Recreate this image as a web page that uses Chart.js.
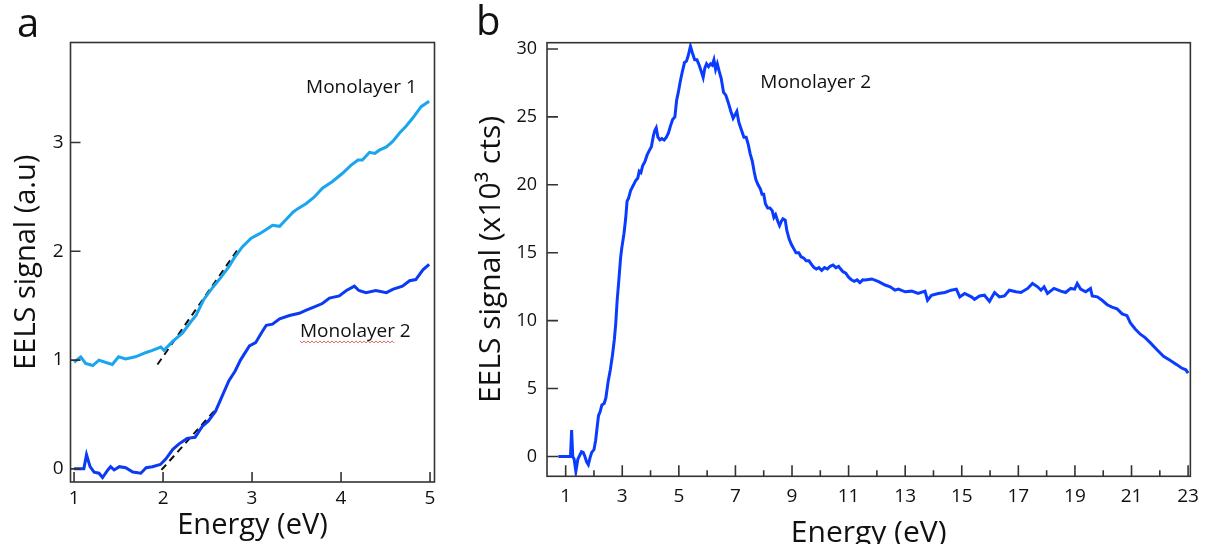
<!DOCTYPE html>
<html>
<head>
<meta charset="utf-8">
<script src="https://cdn.jsdelivr.net/npm/chart.js@4"></script>
<style>
  html, body { margin: 0; padding: 0; background: #fff; overflow: hidden; width: 1208px; height: 544px; }
  #wrapA { position: absolute; left: 0; top: 0; }
  #wrapB { position: absolute; left: 450px; top: 0; }
</style>
</head>
<body>
<div id="wrapA"><canvas id="chartA" width="450" height="544"></canvas></div>
<div id="wrapB"><canvas id="chartB" width="758" height="560"></canvas></div>
<script>
// panel a: onset region, two monolayers
const mono1X = [1.0, 1.075, 1.13, 1.21, 1.28, 1.35, 1.43, 1.5, 1.58, 1.69, 1.81, 1.88, 1.975, 2.01, 2.105, 2.22, 2.31, 2.37, 2.46, 2.56, 2.65, 2.74, 2.80, 2.89, 2.99, 3.08, 3.16, 3.23, 3.31, 3.38, 3.46, 3.51, 3.61, 3.70, 3.79, 3.90, 4.02, 4.11, 4.19, 4.24, 4.32, 4.38, 4.43, 4.51, 4.58, 4.66, 4.73, 4.81, 4.90, 4.99];
const mono1Y = [0.98, 1.03, 0.97, 0.95, 1.0, 0.98, 0.96, 1.03, 1.01, 1.03, 1.07, 1.09, 1.12, 1.09, 1.17, 1.25, 1.35, 1.41, 1.56, 1.67, 1.76, 1.86, 1.94, 2.04, 2.12, 2.16, 2.2, 2.24, 2.23, 2.29, 2.36, 2.39, 2.44, 2.50, 2.58, 2.64, 2.72, 2.79, 2.84, 2.84, 2.91, 2.90, 2.93, 2.96, 3.01, 3.09, 3.15, 3.23, 3.33, 3.38];

const mono2X = [1.0, 1.11, 1.14, 1.18, 1.225, 1.28, 1.32, 1.38, 1.41, 1.45, 1.51, 1.58, 1.66, 1.75, 1.81, 1.88, 1.97, 2.03, 2.11, 2.18, 2.27, 2.36, 2.44, 2.51, 2.59, 2.67, 2.74, 2.81, 2.87, 2.97, 3.04, 3.12, 3.16, 3.23, 3.31, 3.42, 3.53, 3.61, 3.70, 3.79, 3.87, 3.98, 4.06, 4.15, 4.2, 4.28, 4.39, 4.51, 4.58, 4.69, 4.77, 4.84, 4.92, 4.99];
const mono2Y = [0, 0, 0.13, 0.02, -0.03, -0.04, -0.08, -0.01, 0.02, -0.01, 0.02, 0.01, -0.03, -0.04, 0.01, 0.02, 0.04, 0.09, 0.18, 0.23, 0.28, 0.29, 0.39, 0.44, 0.53, 0.68, 0.81, 0.90, 1.0, 1.13, 1.16, 1.27, 1.32, 1.33, 1.38, 1.41, 1.43, 1.46, 1.49, 1.52, 1.57, 1.59, 1.64, 1.68, 1.64, 1.62, 1.64, 1.62, 1.65, 1.68, 1.73, 1.74, 1.83, 1.88];

// onset fits (dashed)
const fit1X = [1.937, 2.856];
const fit1Y = [0.959, 2.036];
const fit2X = [1.982, 2.612];
const fit2Y = [-0.01, 0.566];

const xTicksA = [1, 2, 3, 4, 5];
const yTicksA = [0, 1, 2, 3];

// panel b: full spectrum, monolayer 2
const specX = [0.74, 1.17, 1.21, 1.25, 1.30, 1.36, 1.43, 1.5, 1.56, 1.62, 1.68, 1.74, 1.8, 1.86, 1.92, 2.0, 2.06, 2.12, 2.16, 2.22, 2.28, 2.36, 2.42, 2.5, 2.58, 2.65, 2.72, 2.77, 2.82, 2.88, 2.94, 2.98, 3.06, 3.12, 3.17, 3.22, 3.3, 3.4, 3.47, 3.55, 3.6, 3.66, 3.72, 3.8, 3.88, 3.95, 4.03, 4.1, 4.15, 4.2, 4.26, 4.33, 4.4, 4.48, 4.56, 4.63, 4.7, 4.78, 4.86, 4.92, 4.98, 5.05, 5.12, 5.2, 5.27, 5.33, 5.41, 5.48, 5.56, 5.64, 5.72, 5.8, 5.86, 5.92, 5.98, 6.05, 6.12, 6.18, 6.24, 6.3, 6.36, 6.42, 6.5, 6.58, 6.66, 6.74, 6.84, 6.92, 7.0, 7.05, 7.12, 7.2, 7.3, 7.38, 7.45, 7.52, 7.6, 7.66, 7.72, 7.8, 7.88, 7.94, 8.0, 8.06, 8.14, 8.22, 8.3, 8.36, 8.42, 8.5, 8.56, 8.62, 8.68, 8.76, 8.82, 8.9, 8.98, 9.06, 9.14, 9.24, 9.32, 9.42, 9.5, 9.6, 9.7, 9.78, 9.86, 9.95, 10.05, 10.15, 10.25, 10.35, 10.45, 10.55, 10.65, 10.72, 10.8, 10.9, 11.0, 11.1, 11.2, 11.3, 11.4, 11.5, 11.59, 11.82, 12.06, 12.29, 12.47, 12.64, 12.76, 13.0, 13.23, 13.46, 13.7, 13.79, 13.93, 14.17, 14.4, 14.63, 14.81, 14.93, 15.1, 15.34, 15.45, 15.63, 15.8, 15.98, 16.16, 16.33, 16.51, 16.68, 16.92, 17.09, 17.33, 17.5, 17.68, 17.8, 17.91, 18.03, 18.26, 18.5, 18.67, 18.85, 18.99, 19.08, 19.2, 19.38, 19.55, 19.61, 19.79, 19.96, 20.14, 20.31, 20.49, 20.67, 20.84, 20.96, 21.13, 21.31, 21.48, 21.66, 21.89, 22.13, 22.36, 22.6, 22.77, 22.92, 23.0];
const specY = [0, 0, 1.95, 0, -0.2, -1.1, -0.2, 0.1, 0.35, 0.3, 0.0, -0.4, -0.6, -0.1, 0.3, 0.5, 1.2, 2.3, 3.0, 3.3, 3.8, 3.9, 4.3, 5.5, 6.4, 7.4, 8.6, 9.8, 11.5, 13.0, 14.6, 15.3, 16.4, 17.5, 18.8, 19.0, 19.6, 20.0, 20.3, 20.5, 21.0, 20.9, 21.4, 21.7, 22.2, 22.5, 22.8, 23.6, 24.0, 24.2, 23.5, 23.3, 23.4, 23.3, 23.5, 23.8, 24.3, 24.8, 25.0, 26.2, 26.8, 27.6, 28.3, 29.0, 29.1, 29.5, 30.2, 29.7, 29.2, 29.2, 28.8, 28.3, 27.9, 28.6, 28.9, 28.7, 28.9, 28.8, 29.2, 28.5, 28.9, 28.4, 27.8, 26.8, 26.6, 26.1, 25.4, 24.9, 25.2, 25.4, 24.6, 24.1, 23.5, 23.5, 23.0, 22.3, 21.7, 21.0, 20.4, 20.0, 19.7, 19.3, 19.3, 18.6, 18.3, 18.3, 18.1, 17.6, 17.8, 17.3, 17.0, 17.3, 17.5, 17.4, 16.6, 16.0, 15.6, 15.3, 15.0, 15.0, 14.7, 14.6, 14.4, 14.4, 14.1, 13.9, 13.8, 13.9, 13.7, 13.9, 13.8, 14.0, 14.1, 13.9, 14.0, 13.8, 13.6, 13.5, 13.2, 13.0, 12.9, 13.0, 12.8, 13.0, 12.99, 13.07, 12.87, 12.62, 12.49, 12.24, 12.32, 12.12, 12.17, 12.0, 12.17, 11.5, 11.87, 12.0, 12.07, 12.24, 12.32, 11.75, 12.0, 11.75, 11.57, 11.82, 11.87, 11.42, 12.07, 11.75, 11.82, 12.24, 12.12, 12.07, 12.37, 12.74, 12.49, 12.24, 12.49, 12.0, 12.37, 12.17, 12.07, 12.37, 12.32, 12.74, 12.32, 12.12, 12.37, 11.82, 11.75, 11.5, 11.17, 11.0, 10.87, 10.5, 10.37, 9.83, 9.38, 9.0, 8.75, 8.38, 7.88, 7.38, 7.08, 6.76, 6.51, 6.38, 6.13];

const xTicksB = [1, 3, 5, 7, 9, 11, 13, 15, 17, 19, 21, 23];
const xMinorB = [2, 4, 6, 8, 10, 12, 14, 16, 18, 20, 22];
const yTicksB = [0, 5, 10, 15, 20, 25, 30];

const pts = (xs, ys) => xs.map((x, i) => ({ x, y: ys[i] }));
const FONT = 'Open Sans';
const INK = '#111';

// closed frame, inward ticks, text notes and panel letter
const framePlugin = {
  id: 'frame',
  afterDatasetsDraw(chart, args, o) {
    const { ctx, chartArea: a, scales: { x, y } } = chart;
    ctx.save();
    ctx.strokeStyle = '#333';
    ctx.lineWidth = 1.6;
    ctx.strokeRect(a.left, a.top, a.right - a.left, a.bottom - a.top);
    ctx.beginPath();
    x.ticks.forEach(t => {
      const px = x.getPixelForValue(t.value);
      ctx.moveTo(px, a.bottom);
      ctx.lineTo(px, a.bottom - o.tickLen);
    });
    (o.minor || []).forEach(v => {
      const px = x.getPixelForValue(v);
      ctx.moveTo(px, a.bottom);
      ctx.lineTo(px, a.bottom - o.minorLen);
    });
    y.ticks.forEach(t => {
      const py = y.getPixelForValue(t.value);
      ctx.moveTo(a.left, py);
      ctx.lineTo(a.left + o.tickLen, py);
    });
    ctx.stroke();

    ctx.fillStyle = INK;
    ctx.font = `19px "${FONT}"`;
    ctx.textAlign = 'left';
    ctx.textBaseline = 'middle';
    (o.notes || []).forEach(n => {
      const px = x.getPixelForValue(n.x);
      const py = y.getPixelForValue(n.y);
      ctx.fillText(n.text, px, py);
      if (n.squiggle) {
        // spell-check underline, as in the original screenshot
        const w = ctx.measureText(n.squiggle).width;
        ctx.strokeStyle = '#e06060';
        ctx.lineWidth = 1;
        ctx.beginPath();
        for (let i = 0; i <= w; i += 2) {
          const yy = py + 10 + ((i / 2) % 2 ? 1 : -1);
          if (i === 0) ctx.moveTo(px + i, yy); else ctx.lineTo(px + i, yy);
        }
        ctx.stroke();
      }
    });

    ctx.font = `40px "${FONT}"`;
    ctx.textBaseline = 'alphabetic';
    ctx.fillText(o.letter, o.letterX, o.letterY);
    ctx.restore();
  }
};

const tickFont = size => ({ family: FONT, size });

new Chart(document.getElementById('chartA'), {
  type: 'line',
  data: {
    datasets: [
      { label: 'Monolayer 1', data: pts(mono1X, mono1Y), borderColor: '#1aa6ef', borderWidth: 3 },
      { label: 'Monolayer 2', data: pts(mono2X, mono2Y), borderColor: '#0a3af2', borderWidth: 3 },
      { label: 'fit 1', data: pts(fit1X, fit1Y), borderColor: INK, borderWidth: 2, borderDash: [7, 5] },
      { label: 'fit 2', data: pts(fit2X, fit2Y), borderColor: INK, borderWidth: 2, borderDash: [7, 5] }
    ]
  },
  options: {
    responsive: false,
    animation: false,
    layout: { padding: { left: 0, right: 15.5, top: 42.5, bottom: 0 } },
    elements: { point: { radius: 0 }, line: { tension: 0 } },
    plugins: {
      legend: { display: false },
      tooltip: { enabled: false },
      frame: {
        tickLen: 10, letter: 'a', letterX: 17, letterY: 37,
        notes: [
          { text: 'Monolayer 1', x: 3.607, y: 3.503 },
          { text: 'Monolayer 2', x: 3.539, y: 1.259, squiggle: 'Monolayer' }
        ]
      }
    },
    scales: {
      x: {
        type: 'linear', min: 0.96, max: 5.05,
        afterBuildTicks: s => { s.ticks = xTicksA.map(v => ({ value: v })); },
        afterFit: s => { s.height = 62; },
        grid: { display: false, drawTicks: false },
        border: { display: false },
        ticks: { color: INK, font: tickFont(19), padding: 5, autoSkip: false, maxRotation: 0 },
        title: { display: true, text: 'Energy (eV)', color: INK, font: { family: FONT, size: 29 }, padding: { top: 0, bottom: 1 } }
      },
      y: {
        type: 'linear', min: -0.121, max: 3.92,
        afterBuildTicks: s => { s.ticks = yTicksA.map(v => ({ value: v })); },
        afterFit: s => { s.width = 70.5; },
        grid: { display: false, drawTicks: false },
        border: { display: false },
        ticks: { color: INK, font: tickFont(19), padding: 7 },
        title: { display: true, text: 'EELS signal (a.u)', color: INK, font: { family: FONT, size: 29 }, padding: { top: 9, bottom: 0 } }
      }
    }
  },
  plugins: [framePlugin]
});

new Chart(document.getElementById('chartB'), {
  type: 'line',
  data: {
    datasets: [
      { label: 'Monolayer 2', data: pts(specX, specY), borderColor: '#0a3cff', borderWidth: 3 }
    ]
  },
  options: {
    responsive: false,
    animation: false,
    layout: { padding: { left: 0, right: 9.7, top: 42.7, bottom: 0 } },
    elements: { point: { radius: 0 }, line: { tension: 0 } },
    plugins: {
      legend: { display: false },
      tooltip: { enabled: false },
      frame: {
        tickLen: 11, minor: xMinorB, minorLen: 6, letter: 'b', letterX: 26, letterY: 35,
        notes: [
          { text: 'Monolayer 2', x: 7.88, y: 27.55 }
        ]
      }
    },
    scales: {
      x: {
        type: 'linear', min: 0.34, max: 23.08,
        afterBuildTicks: s => { s.ticks = xTicksB.map(v => ({ value: v })); },
        afterFit: s => { s.height = 83.7; },
        grid: { display: false, drawTicks: false },
        border: { display: false },
        ticks: { color: INK, font: tickFont(19), padding: 9, autoSkip: false, maxRotation: 0 },
        title: { display: true, text: 'Energy (eV)', color: INK, font: { family: FONT, size: 30 }, padding: { top: 0, bottom: 8.6 } }
      },
      y: {
        type: 'linear', min: -1.46, max: 30.46,
        afterBuildTicks: s => { s.ticks = yTicksB.map(v => ({ value: v })); },
        afterFit: s => { s.width = 97; },
        grid: { display: false, drawTicks: false },
        border: { display: false },
        ticks: { color: INK, font: tickFont(18), padding: 10 },
        title: { display: true, text: 'EELS signal (x10³ cts)', color: INK, font: { family: FONT, size: 30 }, padding: { top: 23, bottom: 0 } }
      }
    }
  },
  plugins: [framePlugin]
});
</script>
</body>
</html>
